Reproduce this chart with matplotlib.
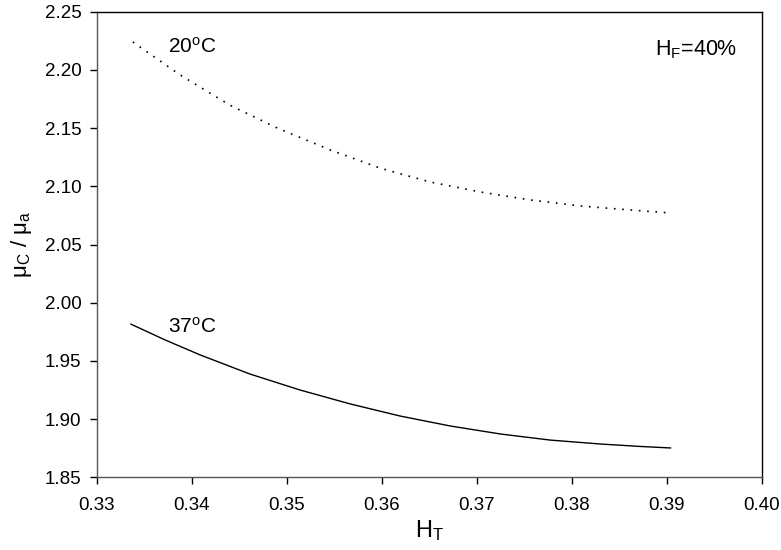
import numpy as np
import matplotlib
matplotlib.use("Agg")
import matplotlib.pyplot as plt

plt.rcParams["font.family"] = ["Liberation Sans", "DejaVu Sans"]
plt.rcParams["mathtext.fontset"] = "custom"
plt.rcParams["mathtext.rm"] = "Liberation Sans"
plt.rcParams["mathtext.it"] = "Liberation Sans:italic"
plt.rcParams["mathtext.default"] = "regular"

# ---- data -----------------------------------------------------------------
ht_20 = [0.3338, 0.3388, 0.3440, 0.3490, 0.3546, 0.3598, 0.3651, 0.3704,
         0.3756, 0.3809, 0.3861, 0.3904]
mu_20 = [2.2240, 2.1956, 2.1698, 2.1501, 2.1312, 2.1157, 2.1037, 2.0951,
         2.0883, 2.0831, 2.0797, 2.0771]

ht_37 = [0.3336, 0.3372, 0.3409, 0.3461, 0.3514, 0.3567, 0.3619, 0.3672,
         0.3725, 0.3777, 0.3830, 0.3872, 0.3904]
mu_37 = [1.9816, 1.9680, 1.9551, 1.9388, 1.9250, 1.9130, 1.9027, 1.8941,
         1.8872, 1.8820, 1.8786, 1.8765, 1.8752]

xticks = [0.33, 0.34, 0.35, 0.36, 0.37, 0.38, 0.39, 0.40]
yticks = [1.85, 1.90, 1.95, 2.00, 2.05, 2.10, 2.15, 2.20, 2.25]

fig = plt.figure(figsize=(7.81, 5.50), dpi=100)
ax = fig.add_axes([0.1238, 0.1322, 0.8515, 0.8465])

ax.plot(ht_20, mu_20, color="black", lw=1.2, ls=(0, (1, 4)))
ax.plot(ht_37, mu_37, color="black", lw=1.0)

ax.text(0.3375, 2.220, r"20$^{\mathrm{o}}$C", fontsize=15, va="center")
ax.text(0.3375, 1.979, r"37$^{\mathrm{o}}$C", fontsize=15, va="center")
ax.text(0.3888, 2.217, r"H$_{\mathrm{F}}$=40%", fontsize=15.5, va="center")

ax.set_xlim(0.33, 0.40)
ax.set_ylim(1.85, 2.25)
ax.set_xticks(xticks)
ax.set_xticklabels([f"{v:.2f}" for v in xticks])
ax.set_yticks(yticks)
ax.set_yticklabels([f"{v:.2f}" for v in yticks])
ax.tick_params(direction="out", length=5, width=1, labelsize=13.5, pad=6)
ax.tick_params(axis="x", pad=9)
for s in ax.spines.values():
    s.set_linewidth(1.0)
ax.spines["left"].set_color("#555555")
ax.spines["bottom"].set_color("#555555")

ax.set_xlabel(r"H$_{\mathrm{T}}$", fontsize=17, labelpad=3)
ax.set_ylabel(r"$\mu_{\mathrm{C}}$ / $\mu_{\mathrm{a}}$", fontsize=16, labelpad=8)

fig.savefig("out.png", dpi=100)
